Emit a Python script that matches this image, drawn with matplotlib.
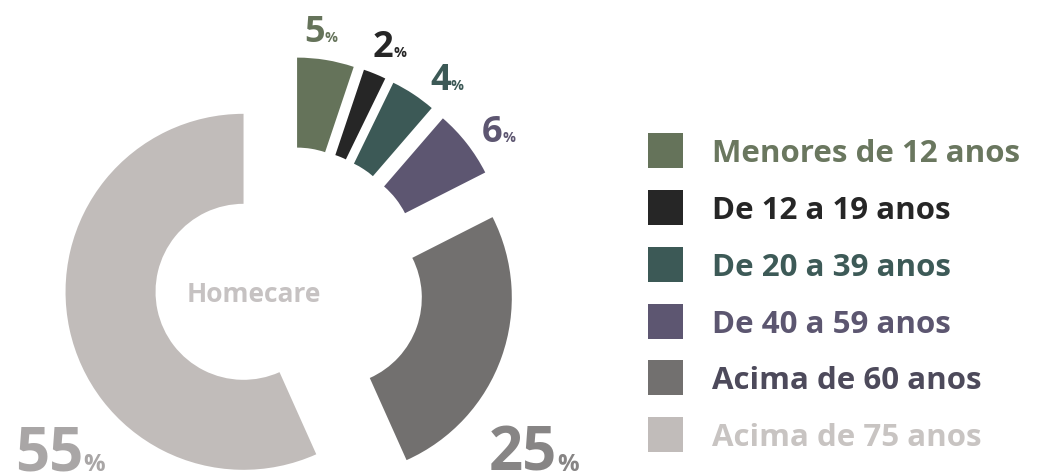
import matplotlib
matplotlib.use("Agg")
import matplotlib.pyplot as plt

W, H = 1038, 477

groups = ["Menores de 12 anos", "De 12 a 19 anos", "De 20 a 39 anos",
          "De 40 a 59 anos", "Acima de 60 anos", "Acima de 75 anos"]
shares = [5, 2, 4, 6, 25, 55]

wedge_colors = ["#65735a", "#262626", "#3c5956", "#5d5671", "#72706f", "#c1bcba"]
text_colors = ["#6a775f", "#262626", "#3d5a57", "#5c5670", "#4d4a5b", "#c8c4c2"]
pct_colors = ["#65735a", "#262626", "#3c5956", "#5d5671", "#878585", "#a9a6a6"]

# label anchors in image pixels (left, baseline)
pct_pos = [(304, 42), (373, 57), (430, 90), (482, 142), (489, 471), (15, 471)]
pct_size = [26, 26, 26, 26, 43, 43]

FONT = "Open Sans"

fig = plt.figure(figsize=(W / 100, H / 100), dpi=100)
ax = fig.add_axes([0, 0, 1, 1])

wedges, _ = ax.pie(shares, colors=wedge_colors, startangle=90, counterclock=False,
                   center=(289.5, H - 283), radius=178, explode=[47] * 6,
                   wedgeprops=dict(width=90, edgecolor="none"))
ax.set_xlim(0, W)
ax.set_ylim(0, H)
ax.set_aspect("auto")
ax.axis("off")

ax.text(254, H - 294, "Homecare", ha="center", va="center", fontsize=19,
        color="#c6c2c2", fontfamily=FONT, fontweight="bold")

fig.canvas.draw()
r = fig.canvas.get_renderer()
for v, (x, y), fs, c in zip(shares, pct_pos, pct_size, pct_colors):
    t = ax.text(x, H - y, str(v), fontsize=fs, color=c, fontfamily=FONT,
                fontweight="bold", ha="left", va="baseline")
    bb = t.get_window_extent(r)
    x1 = ax.transData.inverted().transform((bb.x1, bb.y0))[0]
    ax.text(x1, H - y, "%", fontsize=fs * 0.4, color=c, fontfamily=FONT,
            fontweight="bold", ha="left", va="baseline")

leg = ax.legend(wedges, groups, loc="upper left",
                bbox_to_anchor=(648 / W, 1 - 134 / H), frameon=False,
                prop=dict(family=FONT, weight="bold", size=22.5),
                handlelength=1.12, handleheight=1.346, handletextpad=0.93,
                labelspacing=0.7, borderpad=0, borderaxespad=0)
for t, c in zip(leg.get_texts(), text_colors):
    t.set_color(c)

fig.savefig("out.png", dpi=100)
